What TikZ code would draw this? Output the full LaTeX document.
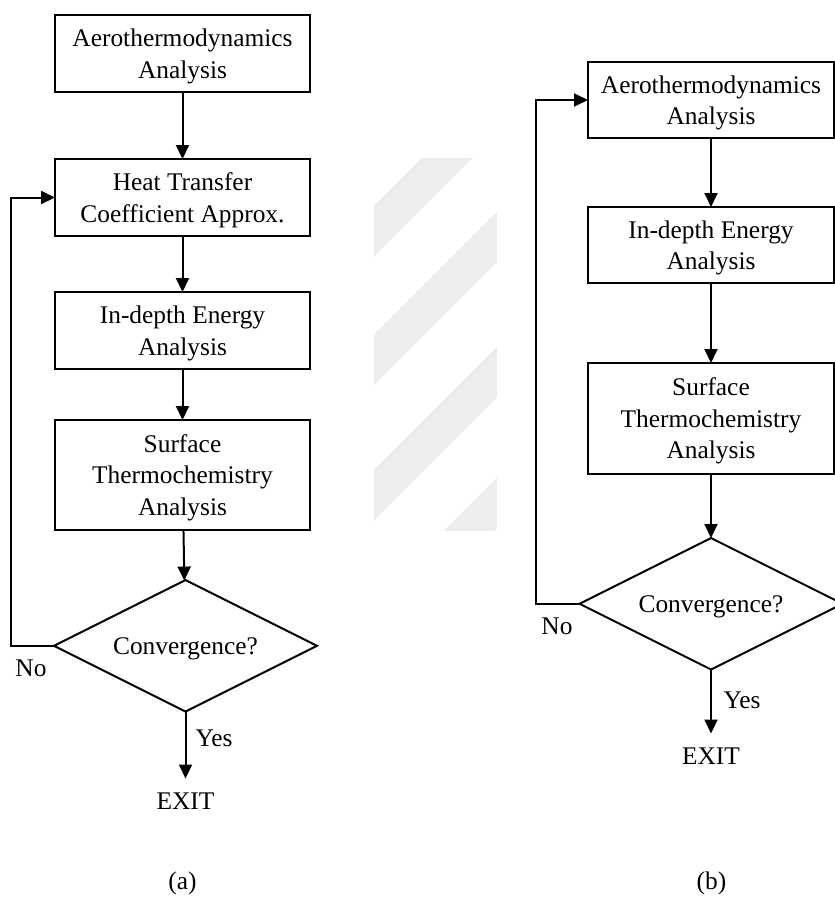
\documentclass[tikz,border=0pt]{standalone}
\usepackage{fontspec}
\setmainfont{Liberation Serif}
\usepackage{tikz}
\usetikzlibrary{positioning,arrows.meta,shapes.geometric}

\begin{document}
\begin{tikzpicture}[x=1pt, y=1pt, line width=2pt,
  every node/.style={font=\fontsize{25.4}{31.5}\selectfont, outer sep=0pt},
  box/.style={draw, rectangle, align=center, minimum width=255pt, minimum height=77pt, inner sep=2pt, text depth=0pt},
  tall/.style={box, minimum height=110pt},
  dec/.style={draw, diamond, shape aspect=2, minimum width=0pt, minimum height=0pt,
    text width=150pt, align=center, text height=17pt, text depth=0pt,
    inner xsep=0pt, inner ysep=19.75pt},
  lbl/.style={inner sep=0pt},
  arr/.style={-{Triangle[width=13pt,length=14pt]}}]
  \useasboundingbox (0,0) rectangle (835,-900);
  % faint watermark stripes
  \begin{scope}
    \clip (374,-530) rectangle (497,-158);
    \foreach \s in {605,734,869,1000}
      \draw[black!7, line width=36pt] (300,300-\s) -- (600,600-\s);
  \end{scope}
  % (a)
  \node[box] (aeroA) at (182.5,-53.5) {Aerothermodynamics\\Analysis};
  \node[box, below=67pt of aeroA] (heatA) {Heat Transfer\\Coefficient Approx.};
  \node[box, below=56pt of heatA] (depthA) {In-depth Energy\\Analysis};
  \node[tall, below=51pt of depthA] (surfA) {Surface\\Thermochemistry\\Analysis};
  \node[dec, below=50pt of surfA, xshift=3pt] (convA) {Convergence?};
  \node[lbl, inner ysep=14pt, below=67pt of convA] (exitA) {EXIT};
  \node[lbl] (yesA) at (214,-738.5) {Yes};
  \node[lbl] (noA) at (31,-668) {No};
  \node[lbl] (capA) at (182.5,-883.5) {(a)};
  \draw[arr] (aeroA) -- (heatA);
  \draw[arr] (heatA) -- (depthA);
  \draw[arr] (depthA) -- (surfA);
  \draw[arr] (surfA) -- (convA);
  \draw[arr] (convA) -- (exitA);
  \draw[arr] (convA.west) -- ++(-43,0) |- (heatA.west);
  % (b)
  \node[box, minimum width=246pt, minimum height=76pt] (aeroB) at (711,-100) {Aerothermodynamics\\Analysis};
  \node[box, minimum width=246pt, minimum height=76pt, below=69pt of aeroB] (depthB) {In-depth Energy\\Analysis};
  \node[tall, minimum width=246pt, minimum height=111pt, below=80pt of depthB] (surfB) {Surface\\Thermochemistry\\Analysis};
  \node[dec, below=64pt of surfB] (convB) {Convergence?};
  \node[lbl, inner ysep=14pt, below=64pt of convB] (exitB) {EXIT};
  \node[lbl] (yesB) at (742,-700.5) {Yes};
  \node[lbl] (noB) at (557,-626.5) {No};
  \node[lbl] (capB) at (711.5,-883.5) {(b)};
  \draw[arr] (aeroB) -- (depthB);
  \draw[arr] (depthB) -- (surfB);
  \draw[arr] (surfB) -- (convB);
  \draw[arr] (convB) -- (exitB);
  \draw[arr] (convB.west) -- ++(-44,0) |- (aeroB.west);
\end{tikzpicture}
\end{document}
